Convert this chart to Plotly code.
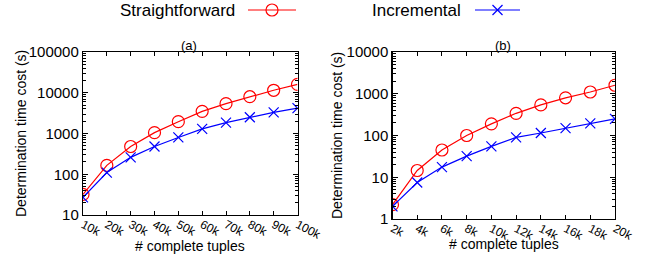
import plotly.graph_objects as go

# ---- data ----
x_a = [10, 20, 30, 40, 50, 60, 70, 80, 90, 100]
x_a_labels = ["10k", "20k", "30k", "40k", "50k", "60k", "70k", "80k", "90k", "100k"]
straight_a = [32, 165, 480, 1050, 1950, 3500, 5400, 8000, 11500, 16000]
incr_a = [27, 110, 260, 480, 800, 1300, 1850, 2500, 3300, 4200]

x_b = [2, 4, 6, 8, 10, 12, 14, 16, 18, 20]
x_b_labels = ["2k", "4k", "6k", "8k", "10k", "12k", "14k", "16k", "18k", "20k"]
straight_b = [2.2, 14.5, 45, 100, 190, 340, 540, 800, 1100, 1600]
incr_b = [2.0, 7.5, 17.5, 32, 55, 90, 115, 150, 195, 250]

y_a_ticks = [10, 100, 1000, 10000, 100000]
y_b_ticks = [1, 10, 100, 1000, 10000]

RED = "rgb(255,0,0)"
BLUE = "rgb(0,0,255)"
FONT = "Liberation Sans, Arial, sans-serif"
W, H = 665, 257

def px(x):
    return x / W

def py(y):
    return 1 - y / H

fig = go.Figure()

def add_series(x, y, xa, ya, color, symbol, size):
    fig.add_trace(go.Scatter(
        x=x, y=y, xaxis=xa, yaxis=ya, mode="lines+markers",
        line=dict(color=color, width=1.2),
        marker=dict(symbol=symbol, size=size, color=color,
                    line=dict(color=color, width=1.2)),
        showlegend=False, hoverinfo="skip"))

add_series(x_a, straight_a, "x", "y", RED, "circle-open", 12)
add_series(x_a, incr_a, "x", "y", BLUE, "x-thin-open", 10)
add_series(x_b, straight_b, "x2", "y2", RED, "circle-open", 12)
add_series(x_b, incr_b, "x2", "y2", BLUE, "x-thin-open", 10)

ytickfont = dict(family=FONT, size=15, color="black")
xtickfont = dict(family=FONT, size=12, color="black")
common_x = dict(showline=True, linecolor="black", linewidth=1.2, mirror="ticks",
                ticks="inside", ticklen=4, tickcolor="black", tickwidth=1,
                showgrid=False, zeroline=False, tickangle=28, tickfont=xtickfont,
                ticklabelstandoff=-3, automargin=False)
common_y = dict(type="log", showline=True, linecolor="black", linewidth=1.2,
                mirror="ticks", ticks="inside", ticklen=5, tickcolor="black",
                tickwidth=1, showgrid=False, zeroline=False, tickfont=ytickfont,
                automargin=False,
                minor=dict(ticks="inside", ticklen=3, tickcolor="black",
                           dtick="D1", showgrid=False))

fig.update_layout(
    width=W, height=H, autosize=False,
    margin=dict(l=0, r=0, t=0, b=0),
    plot_bgcolor="white", paper_bgcolor="white",
    font=dict(family=FONT, color="black"),
    xaxis=dict(common_x, domain=[px(83), px(297.5)], range=[10, 100],
               tickvals=x_a, ticktext=x_a_labels, anchor="y"),
    yaxis=dict(common_y, domain=[py(215), py(52)], range=[1, 5],
               tickvals=y_a_ticks, ticktext=[str(v) for v in y_a_ticks], anchor="x"),
    xaxis2=dict(common_x, domain=[px(392.5), px(615)], range=[2, 20],
                tickvals=x_b, ticktext=x_b_labels, anchor="y2"),
    yaxis2=dict(common_y, domain=[py(219), py(52)], range=[0, 4],
                tickvals=y_b_ticks, ticktext=[str(v) for v in y_b_ticks], anchor="x2"),
)

ann_font = dict(family=FONT, size=14, color="black")
anns = [
    dict(text="(a)", x=px(189), y=py(45), font=dict(family=FONT, size=13, color="black")),
    dict(text="(b)", x=px(503), y=py(45), font=dict(family=FONT, size=13, color="black")),
    dict(text="# complete tuples", x=px(190.5), y=py(246), font=ann_font),
    dict(text="# complete tuples", x=px(504), y=py(244), font=ann_font),
    dict(text="Determination time cost (s)", x=px(21), y=py(134), textangle=-90, font=ann_font),
    dict(text="Determination time cost (s)", x=px(337), y=py(136), textangle=-90, font=ann_font),
    dict(text="Straightforward", x=px(237), y=py(11), xanchor="right",
         font=dict(family=FONT, size=17, color="black")),
    dict(text="Incremental", x=px(463), y=py(11), xanchor="right",
         font=dict(family=FONT, size=17, color="black")),
]
for a in anns:
    a.setdefault("xanchor", "center")
    fig.add_annotation(xref="paper", yref="paper", showarrow=False, yanchor="middle", **a)

# legend samples (decorations)
ly = py(10)
fig.add_shape(type="line", xref="paper", yref="paper", x0=px(248), x1=px(296), y0=ly, y1=ly,
              line=dict(color=RED, width=1.2))
fig.add_shape(type="circle", xref="paper", yref="paper", xsizemode="pixel", ysizemode="pixel",
              xanchor=px(272), yanchor=ly, x0=-6, x1=6, y0=-6, y1=6,
              line=dict(color=RED, width=1.2))
fig.add_shape(type="line", xref="paper", yref="paper", x0=px(475), x1=px(520), y0=ly, y1=ly,
              line=dict(color=BLUE, width=1.2))
for d in (1, -1):
    fig.add_shape(type="line", xref="paper", yref="paper", xsizemode="pixel", ysizemode="pixel",
                  xanchor=px(497.5), yanchor=ly, x0=-5, x1=5, y0=-5 * d, y1=5 * d,
                  line=dict(color=BLUE, width=1.2))

fig.write_html("out.html", config={"displayModeBar": False, "staticPlot": True},
               post_script="document.body.style.margin='0px';")
